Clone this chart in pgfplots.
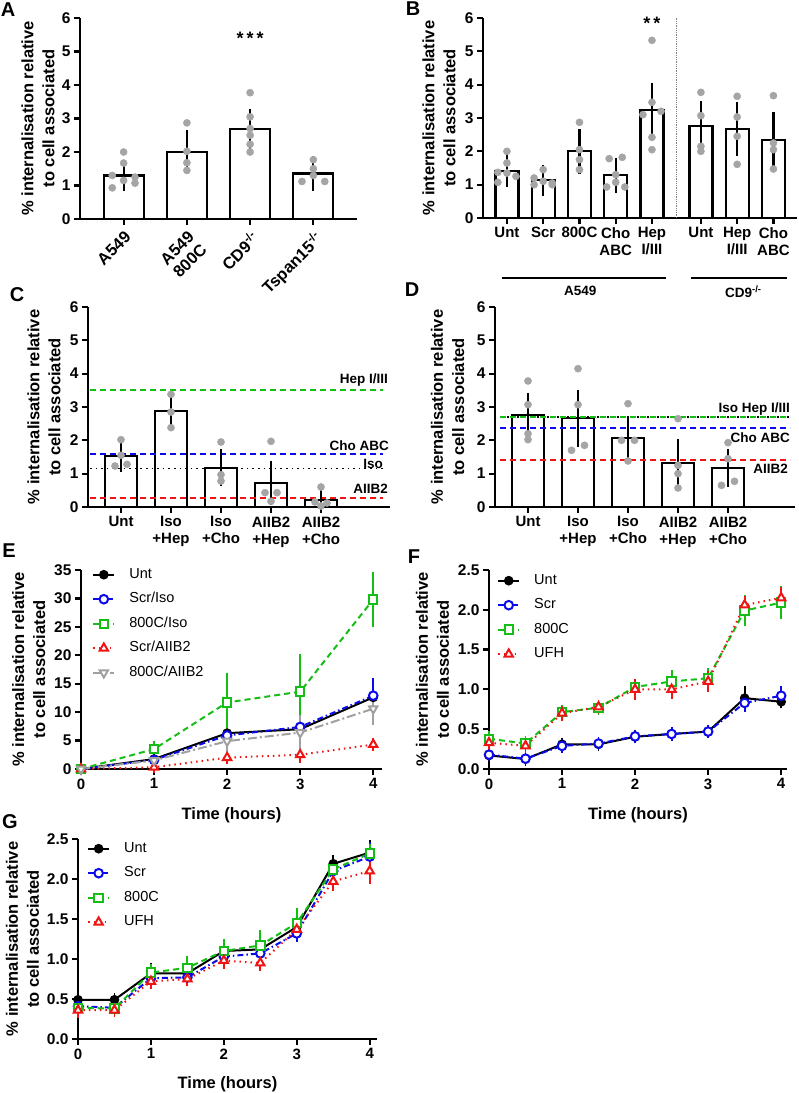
\documentclass[border=0pt]{standalone}
\usepackage{fontspec}
\setmainfont{Liberation Sans}
\usepackage{pgfplots}
\pgfplotsset{compat=1.18}
\definecolor{dotgray}{RGB}{165,165,165}
\definecolor{gpgreen}{RGB}{20,190,20}
\definecolor{gpblue}{RGB}{10,10,235}
\definecolor{gpred}{RGB}{240,20,20}
\definecolor{gpgray}{RGB}{160,160,160}
\tikzset{letter/.style={font=\bfseries\fontsize{20}{20}\selectfont, inner sep=0pt},
  reflab/.style={anchor=east, font=\bfseries\fontsize{13.5}{13.5}\selectfont, inner sep=0pt}}
\pgfplotsset{
  gp/.style={
    scale only axis, anchor=south west, axis lines=left,
    axis line style={-, line width=2.2pt, black},
    tick style={line width=2.2pt, black},
    major tick length=6pt, tick align=outside,
    enlargelimits=false, clip=false,
    tick label style={font=\bfseries\fontsize{15}{17}\selectfont},
    yticklabel style={font=\bfseries\fontsize{15.5}{17}\selectfont},
    /pgf/number format/assume math mode=true,
    label style={font=\bfseries\fontsize{16.5}{21}\selectfont},
    ylabel={\% internalisation relative\\to cell associated},
    ylabel style={align=center, anchor=center},
  },
  barax/.style={gp, ymin=0, ymax=6, ytick={0,1,2,3,4,5,6}},
  meanbar/.style={ybar, fill=white, draw=black, line width=2.2pt},
  dots/.style={only marks, mark=*, mark size=3.6pt, color=dotgray, mark options={draw=dotgray, fill=dotgray}},
  sem/.style={draw=none, mark=none, forget plot, error bars/.cd, y dir=both, y explicit,
     error bar style={draw=black, line width=2.2pt, solid},
     error mark options={draw=black, line width=2.2pt, mark size=#1, solid}},
  errs/.style={error bars/.cd, y dir=both, y explicit,
     error bar style={solid, line width=1.8pt},
     error mark options={solid, line width=1.8pt, mark size=5pt}},
  timeax/.style={gp, xmin=0, xtick={0,1,2,3,4}, xlabel={Time (hours)},
     legend cell align=left,
     legend style={draw=none, fill=none, font=\fontsize{14.5}{17}\selectfont,
        anchor=north west, inner xsep=0pt, inner ysep=0pt, row sep=7.5pt,
        nodes={inner sep=2pt, text height=10pt, text depth=3pt},
        /tikz/every odd column/.append style={column sep=12pt}},
     legend image code/.code={\draw[mark repeat=2,mark phase=2,##1] plot coordinates {(0pt,0pt) (10.5pt,0pt) (21pt,0pt)};},
  },
  smallax/.style={timeax, ymin=0, ymax=2.5, ytick={0,0.5,1,1.5,2,2.5},
     yticklabel style={/pgf/number format/.cd, fixed, fixed zerofill, precision=1}},
  sUnt/.style={black, line width=2pt, mark=*, mark size=3.8pt, mark options={solid}, errs},
  sScr/.style={gpblue, line width=2pt, dash pattern=on 6pt off 3pt on 1.5pt off 3pt, mark=*, mark size=4.3pt, mark options={solid, fill=white}, errs},
  sGrn/.style={gpgreen, line width=2pt, dash pattern=on 6pt off 4pt, mark=square*, mark size=4.2pt, mark options={solid, fill=white}, errs},
  sRed/.style={gpred, line width=2pt, dash pattern=on 1.5pt off 4pt, mark=triangle*, mark size=4.8pt, mark options={solid, fill=white}, errs},
  sGry/.style={gpgray, line width=2pt, dash pattern=on 9pt off 3pt on 2pt off 3pt, mark=triangle*, mark size=4.8pt, mark options={solid, fill=white, rotate=180}, errs},
}
\begin{document}
\begin{tikzpicture}[x=1pt,y=1pt]
\useasboundingbox (0,0) rectangle (799,1093);
\node[letter] at (8,1083) {A};
\node[letter] at (413,1084) {B};
\node[letter] at (17,798) {C};
\node[letter] at (412,803) {D};
\node[letter] at (9,542) {E};
\node[letter] at (414,536) {F};
\node[letter] at (10,271) {G};

% ---------------- A
\begin{axis}[barax, at={(80pt,874pt)}, width=277pt, height=201pt,
  xmin=-0.69, xmax=3.69, xtick={0,1,2,3},
  xticklabels={A549, A549\\800C, CD9\textsuperscript{-/-}, Tspan15\textsuperscript{-/-}},
  xticklabel style={rotate=45, anchor=north east, align=center, font=\bfseries\fontsize{16.5}{18}\selectfont},
  ylabel style={at={(axis description cs:-0.152,0.5)}}]
\addplot[meanbar, bar width=40pt] coordinates {(0,1.30) (1,2.00) (2,2.68) (3,1.36)};
\addplot[dots] coordinates {(0,2.00) (0,1.67) (-0.18,1.30) (0.18,1.25) (0,1.15) (-0.18,0.93) (0.18,1.07)
  (1,2.87) (1,2.02) (1,1.68) (1,1.45)
  (2,3.77) (2,3.05) (2,2.70) (2,2.50) (2,2.23) (2,2.00)
  (3,1.77) (3,1.50) (2.82,1.12) (3.18,1.12) (3,1.30)};
\addplot[sem=11.5pt] coordinates {(0,1.30) +- (0,0.13) (1,2.00) +- (0,0.31) (2,2.68) +- (0,0.27) (3,1.36) +- (0,0.17)};
\node[font=\bfseries\fontsize{18}{18}\selectfont] at (axis cs:2,5.4) {*\,*\,*};
\end{axis}

% ---------------- B
\begin{axis}[barax, at={(483pt,875pt)}, width=314pt, height=200pt,
  xmin=-0.66, xmax=8.0, xtick={0,1,2,3,4,5.35,6.35,7.35},
  xticklabels={Unt, Scr, 800C, Cho\\ABC, Hep\\I/III, Unt, Hep\\I/III, Cho\\ABC},
  xticklabel style={align=center, anchor=north},
  ylabel style={at={(axis description cs:-0.14,0.5)}}]
\addplot[gray, line width=0.8pt, densely dotted] coordinates {(4.68,0) (4.68,6)};
\addplot[meanbar, bar width=23pt] coordinates {(0,1.42) (1,1.13) (2,2.00) (3,1.28) (4,3.23) (5.35,2.75) (6.35,2.67) (7.35,2.35)};
\addplot[dots] coordinates {(0,2.00) (0,1.65) (-0.25,1.37) (0.25,1.25) (-0.25,1.07) (0,1.35)
  (1,1.45) (0.75,1.20) (1,1.10) (0.75,1.00) (1.25,1.00) (1.25,1.05)
  (2,2.87) (2,2.05) (2,1.75) (2,1.45)
  (2.82,1.78) (3.18,1.82) (3,1.30) (2.75,0.93) (3.25,0.93) (3,1.07)
  (4,5.33) (4,3.47) (4.25,3.20) (3.75,3.10) (4,2.42) (4,2.05)
  (5.35,3.77) (5.35,3.07) (5.35,2.15) (5.35,2.00)
  (6.35,3.65) (6.35,3.03) (6.35,2.45) (6.35,1.61)
  (7.35,3.67) (7.35,2.25) (7.35,2.05) (7.35,1.47)};
\addplot[sem=12pt] coordinates {(0,1.42) +- (0,0.14) (1,1.13) +- (0,0.11) (2,2.00) +- (0,0.31) (3,1.28) +- (0,0.17) (4,3.23) +- (0,0.47) (5.35,2.75) +- (0,0.40) (6.35,2.67) +- (0,0.44) (7.35,2.35) +- (0,0.46)};
\node[font=\bfseries\fontsize{18}{18}\selectfont] at (axis cs:4,5.85) {*\,*};
\draw[line width=1.8pt] (axis cs:-0.14,-1.79) -- (axis cs:4.39,-1.79);
\draw[line width=1.8pt] (axis cs:5.08,-1.79) -- (axis cs:7.73,-1.79);
\node[font=\bfseries\fontsize{13.5}{13.5}\selectfont] at (axis cs:2.02,-2.2) {A549};
\node[font=\bfseries\fontsize{13.5}{13.5}\selectfont] at (axis cs:6.52,-2.2) {CD9\textsuperscript{-/-}};
\end{axis}

% ---------------- C
\begin{axis}[barax, at={(88pt,586pt)}, width=302pt, height=200pt,
  xmin=-0.66, xmax=5.38, xtick={0,1,2,3,4},
  xticklabels={Unt, Iso\\+Hep, Iso\\+Cho, AIIB2\\+Hep, AIIB2\\+Cho},
  xticklabel style={align=center, anchor=north},
  ylabel style={at={(axis description cs:-0.146,0.5)}}]
\addplot[meanbar, bar width=32pt] coordinates {(0,1.52) (1,2.87) (2,1.18) (3,0.72) (4,0.22)};
\addplot[gpgreen, line width=1.8pt, dash pattern=on 6pt off 4pt] coordinates {(-0.62,3.5) (5.24,3.5)};
\addplot[gpblue, line width=1.8pt, dash pattern=on 6pt off 4pt] coordinates {(-0.62,1.58) (5.24,1.58)};
\addplot[black, line width=1.6pt, dash pattern=on 1.6pt off 4pt] coordinates {(-0.62,1.16) (5.24,1.16)};
\addplot[gpred, line width=1.8pt, dash pattern=on 6pt off 4pt] coordinates {(-0.62,0.27) (5.24,0.27)};
\addplot[dots] coordinates {(0,2.02) (-0.12,1.23) (0.12,1.28) (0,1.55)
  (1,3.38) (1,2.85) (1,2.38)
  (2,1.95) (2,0.97) (2,0.78)
  (3,1.97) (2.88,0.43) (3.12,0.43) (3,0.17)
  (4,0.60) (3.88,0.15) (4.12,0.12) (4,0.03)};
\addplot[sem=9pt] coordinates {(0,1.52) +- (0,0.19) (1,2.87) +- (0,0.22) (2,1.18) +- (0,0.28) (3,0.72) +- (0,0.40) (4,0.22) +- (0,0.12)};
\node[reflab] at (axis cs:5.34,3.8) {Hep I/III};
\node[reflab] at (axis cs:5.36,1.85) {Cho ABC};
\node[reflab] at (axis cs:5.24,1.30) {Iso};
\node[reflab] at (axis cs:5.34,0.55) {AIIB2};
\end{axis}

% ---------------- D
\begin{axis}[barax, at={(495pt,586pt)}, width=300pt, height=200pt,
  xmin=-0.66, xmax=5.34, xtick={0,1,2,3,4},
  xticklabels={Unt, Iso\\+Hep, Iso\\+Cho, AIIB2\\+Hep, AIIB2\\+Cho},
  xticklabel style={align=center, anchor=north},
  ylabel style={at={(axis description cs:-0.158,0.5)}}]
\addplot[meanbar, bar width=32pt] coordinates {(0,2.75) (1,2.66) (2,2.08) (3,1.32) (4,1.17)};
\addplot[gpgreen, line width=1.8pt, dash pattern=on 6pt off 4pt] coordinates {(-0.56,2.7) (5.24,2.7)};
\addplot[black, line width=1.6pt, dash pattern=on 1.6pt off 8.4pt, dash phase=-7pt] coordinates {(-0.56,2.7) (5.24,2.7)};
\addplot[gpblue, line width=1.8pt, dash pattern=on 6pt off 4pt] coordinates {(-0.56,2.38) (5.24,2.38)};
\addplot[gpred, line width=1.8pt, dash pattern=on 6pt off 4pt] coordinates {(-0.56,1.40) (5.24,1.40)};
\addplot[dots] coordinates {(0,3.78) (0,3.07) (0,2.20) (0,2.02)
  (1,4.15) (1,3.07) (0.87,1.70) (1.13,1.85)
  (2,3.10) (1.87,2.00) (2.13,2.00) (2,1.38)
  (3,2.65) (3,1.25) (3,1.00) (3,0.57)
  (4,1.93) (4,1.45) (3.87,0.65) (4.13,0.77)};
\addplot[sem=9pt] coordinates {(0,2.75) +- (0,0.40) (1,2.66) +- (0,0.58) (2,2.08) +- (0,0.35) (3,1.32) +- (0,0.45) (4,1.17) +- (0,0.30)};
\node[reflab] at (axis cs:5.24,2.93) {Iso Hep I/III};
\node[reflab] at (axis cs:5.24,2.07) {Cho ABC};
\node[reflab] at (axis cs:5.20,1.15) {AIIB2};
\end{axis}

% ---------------- E
\begin{axis}[timeax, at={(81pt,324pt)}, width=301pt, height=199pt,
  xmax=4.12, ymin=0, ymax=35, ytick={0,5,10,15,20,25,30,35},
  ylabel style={at={(axis description cs:-0.174,0.5)}},
  xlabel style={at={(axis description cs:0.5,-0.231)}, anchor=center},
  legend style={at={(axis description cs:0.037,1.02)}}]
\addplot[sUnt] coordinates {(0,0) +- (0,0.1) (1,1.75) +- (0,0.3) (2,6.3) +- (0,2.2) (3,7.0) +- (0,3.0) (4,12.6) +- (0,2.2)};
\addplot[sScr] coordinates {(0,0) +- (0,0.1) (1,1.6) +- (0,0.3) (2,5.9) +- (0,1.6) (3,7.4) +- (0,2.7) (4,12.9) +- (0,2.3)};
\addplot[sGrn] coordinates {(0,0) +- (0,0.1) (1,3.5) +- (0,0.5) (2,11.7) +- (0,4.3) (3,13.6) +- (0,5.7) (4,29.8) +- (0,4.0)};
\addplot[sRed] coordinates {(0,0) +- (0,0.1) (1,0.3) +- (0,0.1) (2,2.0) +- (0,0.3) (3,2.5) +- (0,0.6) (4,4.3) +- (0,0.3)};
\addplot[sGry] coordinates {(0,0) +- (0,0.1) (1,1.5) +- (0,0.3) (2,4.9) +- (0,1.2) (3,6.4) +- (0,2.2) (4,10.6) +- (0,2.0)};
\legend{Unt, Scr/Iso, 800C/Iso, Scr/AIIB2, 800C/AIIB2}
\end{axis}

% ---------------- F
\begin{axis}[smallax, at={(489pt,324pt)}, width=298pt, height=199pt,
  xmax=4.08,
  ylabel style={at={(axis description cs:-0.19,0.5)}},
  xlabel style={at={(axis description cs:0.5,-0.231)}, anchor=center},
  legend style={at={(axis description cs:0.027,0.99)}}]
\addplot[sUnt] coordinates {(0,0.17) +- (0,0.02) (0.5,0.125) +- (0,0.02) (1,0.31) +- (0,0.02) (1.5,0.31) +- (0,0.02) (2,0.405) +- (0,0.02) (2.5,0.44) +- (0,0.02) (3,0.47) +- (0,0.02) (3.5,0.89) +- (0,0.09) (4,0.845) +- (0,0.02)};
\addplot[sScr] coordinates {(0,0.18) +- (0,0.02) (0.5,0.13) +- (0,0.02) (1,0.29) +- (0,0.02) (1.5,0.32) +- (0,0.02) (2,0.41) +- (0,0.02) (2.5,0.44) +- (0,0.02) (3,0.47) +- (0,0.02) (3.5,0.83) +- (0,0.05) (4,0.92) +- (0,0.06)};
\addplot[sGrn] coordinates {(0,0.38) +- (0,0.03) (0.5,0.32) +- (0,0.03) (1,0.715) +- (0,0.03) (1.5,0.77) +- (0,0.03) (2,1.03) +- (0,0.04) (2.5,1.10) +- (0,0.08) (3,1.14) +- (0,0.07) (3.5,1.99) +- (0,0.13) (4,2.09) +- (0,0.14)};
\addplot[sRed] coordinates {(0,0.33) +- (0,0.04) (0.5,0.29) +- (0,0.03) (1,0.70) +- (0,0.03) (1.5,0.78) +- (0,0.03) (2,1.00) +- (0,0.07) (2.5,1.00) +- (0,0.06) (3,1.10) +- (0,0.07) (3.5,2.06) +- (0,0.05) (4,2.15) +- (0,0.07)};
\legend{Unt, Scr, 800C, UFH}
\end{axis}

% ---------------- G
\begin{axis}[smallax, at={(78pt,54pt)}, width=299pt, height=200pt,
  xmax=4.1,
  ylabel style={at={(axis description cs:-0.186,0.5)}},
  xlabel style={at={(axis description cs:0.5,-0.225)}, anchor=center},
  legend style={at={(axis description cs:0.03,0.995)}}]
\addplot[sUnt] coordinates {(0,0.49) +- (0,0.07) (0.5,0.49) +- (0,0.02) (1,0.82) +- (0,0.07) (1.5,0.82) +- (0,0.02) (2,1.10) +- (0,0.05) (2.5,1.12) +- (0,0.06) (3,1.40) +- (0,0.06) (3.5,2.19) +- (0,0.05) (4,2.33) +- (0,0.10)};
\addplot[sScr] coordinates {(0,0.41) +- (0,0.03) (0.5,0.39) +- (0,0.03) (1,0.76) +- (0,0.03) (1.5,0.77) +- (0,0.03) (2,1.03) +- (0,0.04) (2.5,1.07) +- (0,0.04) (3,1.32) +- (0,0.04) (3.5,2.10) +- (0,0.05) (4,2.28) +- (0,0.12)};
\addplot[sGrn] coordinates {(0,0.39) +- (0,0.03) (0.5,0.38) +- (0,0.03) (1,0.83) +- (0,0.04) (1.5,0.89) +- (0,0.09) (2,1.10) +- (0,0.09) (2.5,1.17) +- (0,0.13) (3,1.45) +- (0,0.13) (3.5,2.12) +- (0,0.06) (4,2.32) +- (0,0.06)};
\addplot[sRed] coordinates {(0,0.36) +- (0,0.03) (0.5,0.36) +- (0,0.02) (1,0.72) +- (0,0.03) (1.5,0.75) +- (0,0.03) (2,0.98) +- (0,0.04) (2.5,0.95) +- (0,0.04) (3,1.37) +- (0,0.04) (3.5,1.97) +- (0,0.06) (4,2.10) +- (0,0.10)};
\legend{Unt, Scr, 800C, UFH}
\end{axis}
\end{tikzpicture}
\end{document}
